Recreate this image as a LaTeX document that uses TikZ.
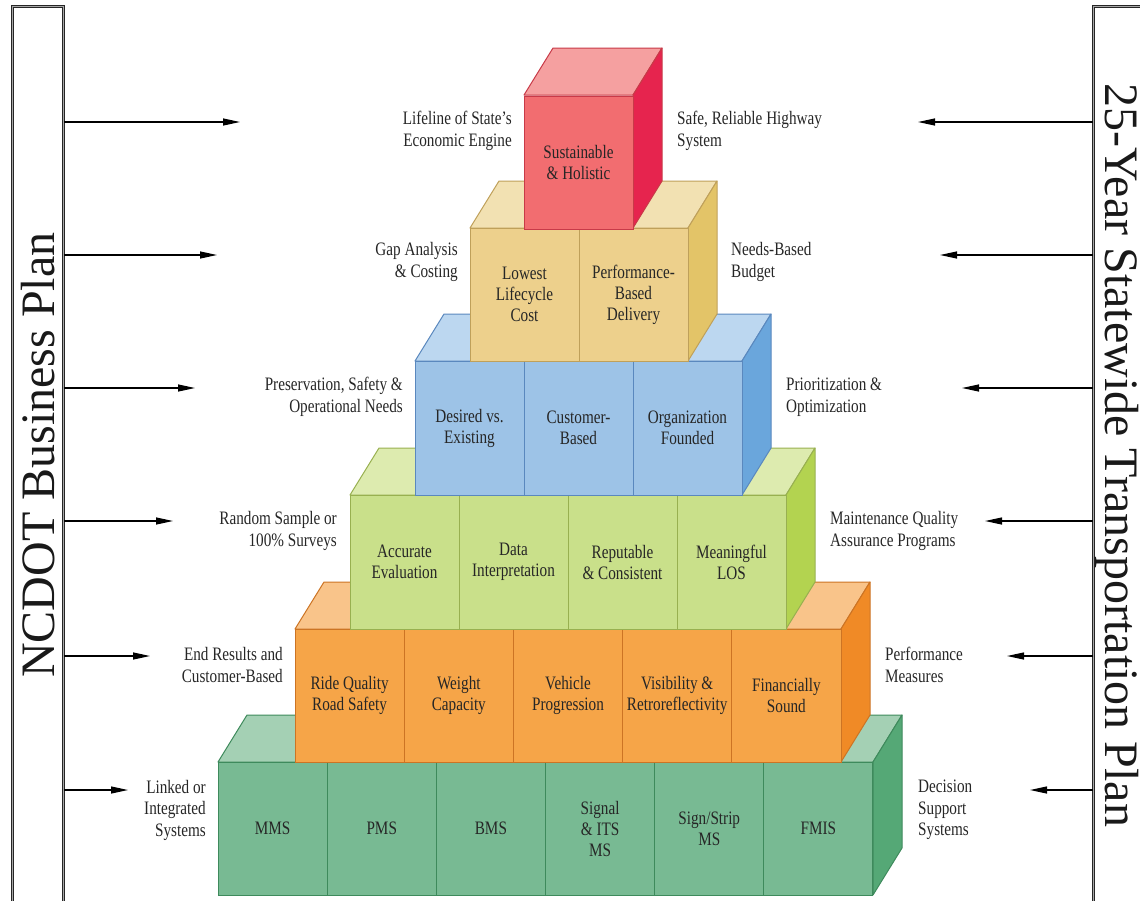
\documentclass[tikz,border=0pt]{standalone}
\usepackage{fontspec}
\setmainfont{Liberation Serif}[FakeStretch=0.8]
\newfontfamily\bigfont{Liberation Serif}
\usetikzlibrary{arrows.meta}
\definecolor{redF}{HTML}{F26D70}\definecolor{redT}{HTML}{F5A0A0}\definecolor{redS}{HTML}{E6244E}\definecolor{redE}{HTML}{C83A48}
\definecolor{tanF}{HTML}{EDD08C}\definecolor{tanT}{HTML}{F2E1B2}\definecolor{tanS}{HTML}{E3C468}\definecolor{tanE}{HTML}{BFA05A}
\definecolor{bluF}{HTML}{9DC3E7}\definecolor{bluT}{HTML}{BCD7F0}\definecolor{bluS}{HTML}{6AA6DC}\definecolor{bluE}{HTML}{5A88BE}
\definecolor{limF}{HTML}{C9E08A}\definecolor{limT}{HTML}{DDEBAF}\definecolor{limS}{HTML}{B3D350}\definecolor{limE}{HTML}{98B050}
\definecolor{orgF}{HTML}{F6A548}\definecolor{orgT}{HTML}{F9C48A}\definecolor{orgS}{HTML}{F08A26}\definecolor{orgE}{HTML}{CC7424}
\definecolor{grnF}{HTML}{78BA93}\definecolor{grnT}{HTML}{A4D0B4}\definecolor{grnS}{HTML}{55A876}\definecolor{grnE}{HTML}{3E8A5C}
\definecolor{txt}{HTML}{262626}
\newcommand{\lvlfaces}[5]{%
  \filldraw[fill=#5T, draw=#5E, line width=1pt, line join=round] (#1,#3) -- (#1+29,#3-47) -- (#2+29,#3-47) -- (#2,#3) -- cycle;
  \filldraw[fill=#5S, draw=#5E, line width=1pt, line join=round] (#2,#3) -- (#2+29,#3-47) -- (#2+29,#4-47) -- (#2,#4) -- cycle;
}
\tikzset{
  cell/.style={draw, line width=1pt, inner sep=0pt, align=center, text=txt,
    font=\fontsize{19}{21}\selectfont},
  lab/.style={inner sep=0pt, text=txt, font=\fontsize{19}{21.5}\selectfont},
  labL/.style={lab, anchor=east, align=right},
  labR/.style={lab, anchor=west, align=left},
  arr/.style={line width=1.2pt, -{Triangle[length=17pt,width=7pt]}},
  bar/.style={draw=black!85, double=black!35, double distance=0.9pt, line width=0.9pt, fill=white, inner sep=0pt, anchor=north west}
}
\begin{document}
\begin{tikzpicture}[x=1pt,y=-1pt]
\useasboundingbox (0,0) rectangle (1140,900);
\clip (0,0) rectangle (1140,900);
% bars
\node[bar, minimum width=51pt, minimum height=920pt] (lbar) at (12,6) {};
\node[bar, minimum width=70pt, minimum height=920pt] (rbar) at (1093,6) {};
\node[rotate=90, font=\bigfont\fontsize{48}{48}\selectfont, text=black!90, inner sep=0pt] (ltxt) at (38,455) {NCDOT Business Plan};
\node[rotate=-90, font=\bigfont\fontsize{48}{48}\selectfont, text=black!90, inner sep=0pt] (rtxt) at (1117,455) {25-Year Statewide Transportation Plan};
% arrow tips
\coordinate (tl1) at (240,122); \coordinate (tr1) at (918,122);
\coordinate (tl2) at (217,255); \coordinate (tr2) at (940,255);
\coordinate (tl3) at (195,388); \coordinate (tr3) at (962,388);
\coordinate (tl4) at (173,521); \coordinate (tr4) at (985,521);
\coordinate (tl5) at (150,656); \coordinate (tr5) at (1007,656);
\coordinate (tl6) at (128,790); \coordinate (tr6) at (1030,790);
\foreach \i in {1,...,6}{
  \draw[arr] (lbar.east |- tl\i) -- (tl\i);
  \draw[arr] (rbar.west |- tr\i) -- (tr\i);
}
% level 1 green
\lvlfaces{218}{873}{762}{895}{grn}
\tikzset{cell/.append style={minimum height=133pt, minimum width=109.17pt, fill=grnF, draw=grnE}}
\node[cell] (g1) at (272.6,828.5) {MMS};
\node[cell] (g2) at (381.75,828.5) {PMS};
\node[cell] (g3) at (490.9,828.5) {BMS};
\node[cell] (g4) at (600.1,828.5) {Signal\\\& ITS\\MS};
\node[cell] (g5) at (709.25,828.5) {Sign/Strip\\MS};
\node[cell] (g6) at (818.4,828.5) {FMIS};
% level 2 orange
\lvlfaces{295}{841}{629}{762}{org}
\tikzset{cell/.append style={minimum height=133pt, minimum width=109.2pt, fill=orgF, draw=orgE}}
\node[cell] (o1) at (349.6,695.5) {Ride Quality\\Road Safety};
\node[cell] (o2) at (458.8,695.5) {Weight\\Capacity};
\node[cell] (o3) at (568,695.5) {Vehicle\\Progression};
\node[cell] (o4) at (677.2,695.5) {Visibility \&\\Retroreflectivity};
\node[cell] (o5) at (786.4,695.5) {Financially\\Sound};
% level 3 lime
\lvlfaces{350}{786}{495}{629}{lim}
\tikzset{cell/.append style={minimum height=134pt, minimum width=109pt, fill=limF, draw=limE}}
\node[cell] (m1) at (404.5,562) {Accurate\\Evaluation};
\node[cell] (m2) at (513.5,562) {Data\\Interpretation};
\node[cell] (m3) at (622.5,562) {Reputable\\\& Consistent};
\node[cell] (m4) at (731.5,562) {Meaningful\\LOS};
% level 4 blue
\lvlfaces{415}{742}{361}{495}{blu}
\tikzset{cell/.append style={fill=bluF, draw=bluE}}
\node[cell] (b1) at (469.5,428) {Desired vs.\\Existing};
\node[cell] (b2) at (578.5,428) {Customer-\\Based};
\node[cell] (b3) at (687.5,428) {Organization\\Founded};
% level 5 tan
\lvlfaces{470}{688}{228}{361}{tan}
\tikzset{cell/.append style={minimum height=133pt, fill=tanF, draw=tanE}}
\node[cell] (t1) at (524.5,294.5) {Lowest\\Lifecycle\\Cost};
\node[cell] (t2) at (633.5,294.5) {Performance-\\Based\\Delivery};
% level 6 red
\lvlfaces{524}{633}{95}{228}{red}
\tikzset{cell/.append style={fill=redF, draw=redE}}
\node[cell] (r1) at (578.5,162.5) {Sustainable\\\& Holistic};
% side labels
\node[labL] (l1) at (512,131) {Lifeline of State's\\Economic Engine};
\node[labL] (l2) at (458,262) {Gap Analysis\\\& Costing};
\node[labL] (l3) at (403,397) {Preservation, Safety \&\\Operational Needs};
\node[labL] (l4) at (337,531) {Random Sample or\\100\% Surveys};
\node[labL] (l5) at (283,665) {End Results and\\Customer-Based};
\node[labL] (l6) at (206,810) {Linked or\\Integrated\\Systems};
\node[labR] (q1) at (677,131) {Safe, Reliable Highway\\System};
\node[labR] (q2) at (731,262) {Needs-Based\\Budget};
\node[labR] (q3) at (786,397) {Prioritization \&\\Optimization};
\node[labR] (q4) at (830,531) {Maintenance Quality\\Assurance Programs};
\node[labR] (q5) at (885,665) {Performance\\Measures};
\node[labR] (q6) at (918,810) {Decision\\Support\\Systems};
\end{tikzpicture}
\end{document}
